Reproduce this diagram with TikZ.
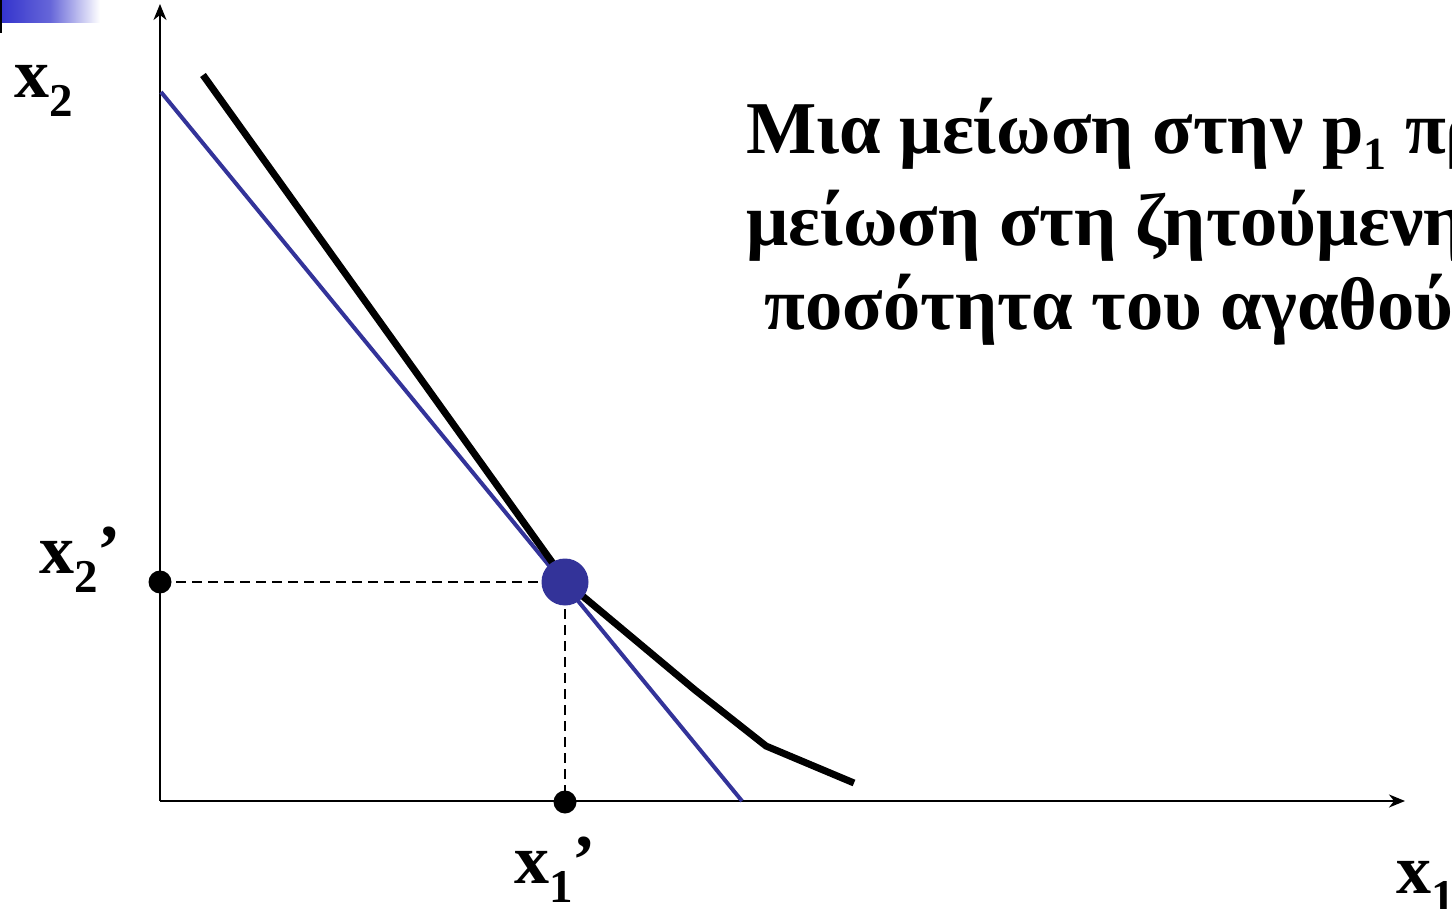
\documentclass[tikz,border=0pt]{standalone}
\usepackage{fontspec}
\setmainfont{Liberation Serif}
\usetikzlibrary{arrows.meta}
\definecolor{dotblue}{HTML}{333399}
\definecolor{barblue}{HTML}{3333CC}
\newcommand{\mysub}[1]{\raisebox{-19pt}{\fontsize{47}{47}\selectfont #1}}
\newcommand{\tsub}[1]{\raisebox{-16pt}{\fontsize{46}{46}\selectfont #1}}
\tikzset{
  axis/.style={line width=2pt,-{Stealth[length=16pt,width=13pt,inset=5pt]}},
  budget/.style={line width=4pt,draw=dotblue},
  curve/.style={line width=7pt,line join=miter},
  guide/.style={line width=2pt,dash pattern=on 10pt off 6pt},
  lab/.style={inner sep=0pt,anchor=base west,font=\fontsize{70}{70}\selectfont\bfseries},
  title/.style={inner sep=0pt,anchor=base west,font=\fontsize{74.5}{74.5}\selectfont\bfseries},
  smalldot/.style={circle,fill=black,inner sep=0pt,minimum size=23pt},
  bigdot/.style={circle,fill=dotblue,inner sep=0pt,minimum size=47pt}
}
\begin{document}
\begin{tikzpicture}[x=1pt,y=-1pt]
\useasboundingbox (0,0) rectangle (1452,909);
\clip (0,0) rectangle (1452,909);
% corner bar
\shade[left color=barblue,right color=white,middle color=barblue!75] (0,0) rectangle (100,23);
\fill[black] (0,0) rectangle (1.5,33);
% axes
\coordinate (O) at (160,801);
\coordinate (ytop) at (160,4);
\coordinate (xend) at (1405,801);
\draw[axis] (O) -- (ytop);
\draw[axis] (O) -- (xend);
% budget line
\coordinate (b1) at (161,92);
\coordinate (b2) at (742,801);
\draw[budget] (b1) -- (b2);
% curve
\coordinate (c0) at (203,75);
\coordinate (c1) at (567,583);
\coordinate (c2) at (695,690);
\coordinate (c3) at (766,746);
\coordinate (c4) at (854,783);
\draw[curve] (c0) -- (c1) -- (c2) -- (c3) -- (c4);
% points
\node[smalldot] (p2) at (160,582) {};
\node[smalldot] (p1) at (565,802) {};
\draw[guide] (p2.center) -- (565,582) -- (p1.center);
\node[bigdot] (E) at (565,582) {};
% labels
\node[lab] (lx2) at (14,98) {x\mysub{2}};
\node[lab] (lx2p) at (39,573) {x\mysub{2}’};
\node[lab] (lx1p) at (514,883) {x\mysub{1}’};
\node[lab] (lx1) at (1396,893) {x\mysub{1}};
% title
\node[title] (t1) at (746,154) {Μια μείωση στην p\tsub{1} προκαλεί};
\node[title] (t2) at (746,246) {μείωση στη ζητούμενη};
\node[title] (t3) at (746,330) {\ ποσότητα του αγαθού 1};
\end{tikzpicture}
\end{document}
